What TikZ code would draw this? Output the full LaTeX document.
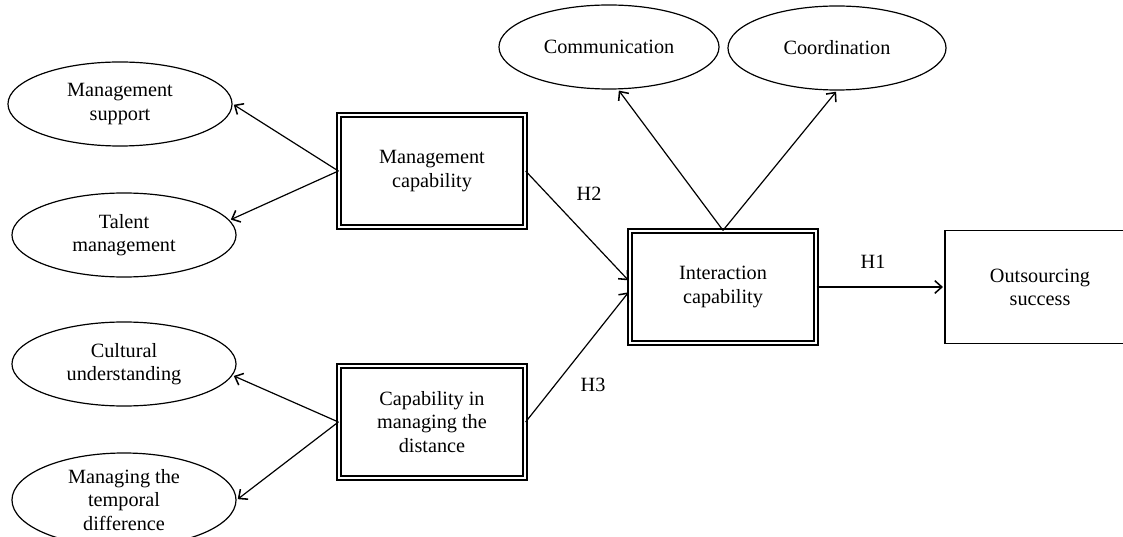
\documentclass[tikz,border=0pt]{standalone}
\usepackage{fontspec}
\setmainfont{Liberation Serif}
\usetikzlibrary{arrows.meta,shapes}

\begin{document}
\begin{tikzpicture}[x=0.025cm,y=-0.025cm,shorten >=1pt,-{Straight Barb[length=5pt,width=9pt,line width=1.1pt]},
  line width=0.85pt,font=\fontsize{14.4}{16.5}\selectfont,
  factor/.style={ellipse,draw,align=center,inner sep=0pt,minimum width=5.6cm,minimum height=2.1cm},
  construct/.style={rectangle,draw,double,double distance=2pt,align=center,minimum width=4.65cm,minimum height=2.8cm},
  outcome/.style={rectangle,draw,align=center,minimum width=4.75cm,minimum height=2.83cm}]
\useasboundingbox (0,0) rectangle (1123,537);
\node[factor] at (120,104) (ms) {Management\\support};
\node[factor] at (124,235) (tm) {Talent\\management};
\node[factor] at (124,364) (cu) {Cultural\\understanding};
\node[factor,minimum height=2.35cm] at (124,500) (mtd) {Managing the\\temporal\\difference};
\node[construct] at (432,171) (mc) {Management\\capability};
\node[construct] at (432,422) (cmd) {Capability in\\managing the\\distance};
\node[construct] at (723,287) (ic) {Interaction\\capability};
\node[outcome] at (1040,287) (os) {Outsourcing\\success};
\node[factor,minimum width=5.5cm] at (609,47) (comm) {Communication};
\node[factor,minimum width=5.45cm] at (837,48) (coord) {Coordination};
\node at (589,194) (h2) {H2};
\node at (593,385) (h3) {H3};
\node at (873,262) (h1) {H1};
\draw (mc.west) -- (ms.east);
\draw (mc.west) -- (tm.8);
\draw (cmd.west) -- (cu.-6);
\draw (cmd.west) -- (mtd.east);
\draw (mc.east) -- ([yshift=4pt]ic.west);
\draw (cmd.east) -- ([yshift=-3pt]ic.west);
\draw (ic.north) -- (comm.-78);
\draw (ic.north) -- (coord.south);
\draw[line width=1.4pt] (ic.east) -- (os.west);
\end{tikzpicture}
\end{document}
